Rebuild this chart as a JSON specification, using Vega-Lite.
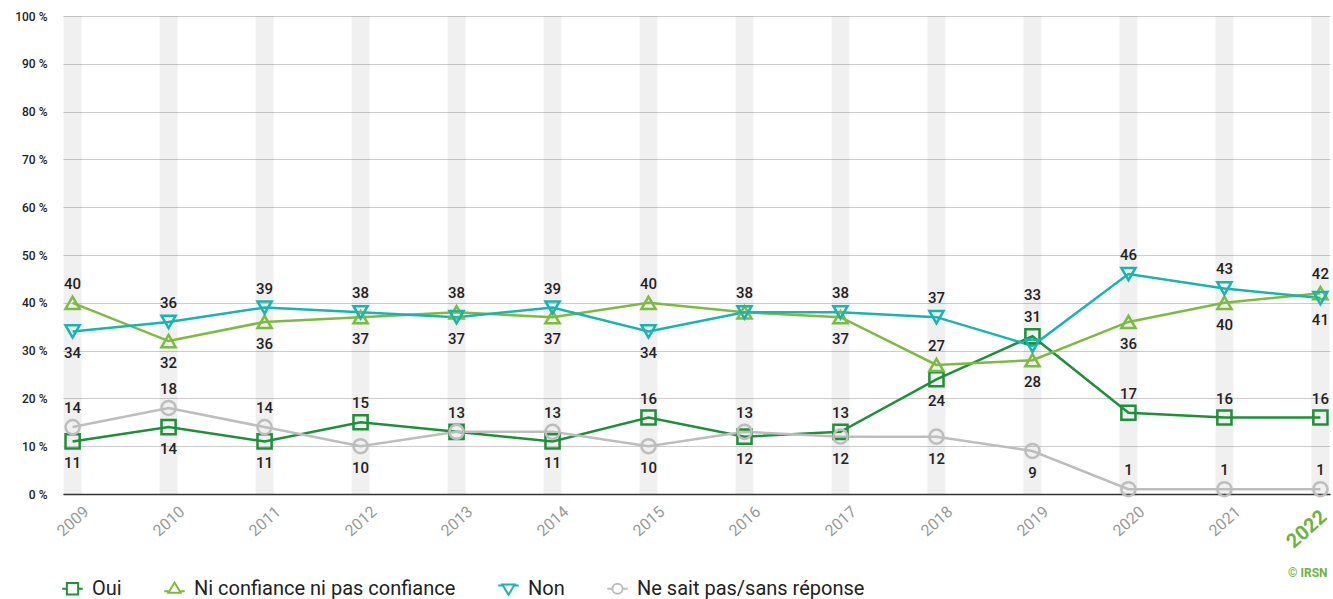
{
  "$schema": "https://vega.github.io/schema/vega-lite/v6.json",
  "width": 1267,
  "height": 478,
  "autosize": {"type": "none"},
  "padding": {"left": 63, "top": 16, "right": 3, "bottom": 105},
  "config": {"view": {"stroke": null}, "font": "Roboto"},
  "data": {"values": [
    {"annee": 2009, "serie": "Oui", "valeur": 11, "etiq": "dessous"},
    {"annee": 2010, "serie": "Oui", "valeur": 14, "etiq": "dessous"},
    {"annee": 2011, "serie": "Oui", "valeur": 11, "etiq": "dessous"},
    {"annee": 2012, "serie": "Oui", "valeur": 15, "etiq": "dessus"},
    {"annee": 2013, "serie": "Oui", "valeur": 13, "etiq": "dessus"},
    {"annee": 2014, "serie": "Oui", "valeur": 11, "etiq": "dessous"},
    {"annee": 2015, "serie": "Oui", "valeur": 16, "etiq": "dessus"},
    {"annee": 2016, "serie": "Oui", "valeur": 12, "etiq": "dessous"},
    {"annee": 2017, "serie": "Oui", "valeur": 13, "etiq": "dessus"},
    {"annee": 2018, "serie": "Oui", "valeur": 24, "etiq": "dessous"},
    {"annee": 2019, "serie": "Oui", "valeur": 33, "etiq": "dessus_haut"},
    {"annee": 2020, "serie": "Oui", "valeur": 17, "etiq": "dessus"},
    {"annee": 2021, "serie": "Oui", "valeur": 16, "etiq": "dessus"},
    {"annee": 2022, "serie": "Oui", "valeur": 16, "etiq": "dessus"},
    {"annee": 2009, "serie": "Ni confiance ni pas confiance", "valeur": 40, "etiq": "dessus"},
    {"annee": 2010, "serie": "Ni confiance ni pas confiance", "valeur": 32, "etiq": "dessous"},
    {"annee": 2011, "serie": "Ni confiance ni pas confiance", "valeur": 36, "etiq": "dessous"},
    {"annee": 2012, "serie": "Ni confiance ni pas confiance", "valeur": 37, "etiq": "dessous"},
    {"annee": 2013, "serie": "Ni confiance ni pas confiance", "valeur": 38, "etiq": "dessus"},
    {"annee": 2014, "serie": "Ni confiance ni pas confiance", "valeur": 37, "etiq": "dessous"},
    {"annee": 2015, "serie": "Ni confiance ni pas confiance", "valeur": 40, "etiq": "dessus"},
    {"annee": 2016, "serie": "Ni confiance ni pas confiance", "valeur": 38, "etiq": "dessus"},
    {"annee": 2017, "serie": "Ni confiance ni pas confiance", "valeur": 37, "etiq": "dessous"},
    {"annee": 2018, "serie": "Ni confiance ni pas confiance", "valeur": 27, "etiq": "dessus"},
    {"annee": 2019, "serie": "Ni confiance ni pas confiance", "valeur": 28, "etiq": "dessous"},
    {"annee": 2020, "serie": "Ni confiance ni pas confiance", "valeur": 36, "etiq": "dessous"},
    {"annee": 2021, "serie": "Ni confiance ni pas confiance", "valeur": 40, "etiq": "dessous"},
    {"annee": 2022, "serie": "Ni confiance ni pas confiance", "valeur": 42, "etiq": "dessus"},
    {"annee": 2009, "serie": "Non", "valeur": 34, "etiq": "dessous"},
    {"annee": 2010, "serie": "Non", "valeur": 36, "etiq": "dessus"},
    {"annee": 2011, "serie": "Non", "valeur": 39, "etiq": "dessus"},
    {"annee": 2012, "serie": "Non", "valeur": 38, "etiq": "dessus"},
    {"annee": 2013, "serie": "Non", "valeur": 37, "etiq": "dessous"},
    {"annee": 2014, "serie": "Non", "valeur": 39, "etiq": "dessus"},
    {"annee": 2015, "serie": "Non", "valeur": 34, "etiq": "dessous"},
    {"annee": 2016, "serie": "Non", "valeur": 38, "etiq": "aucune"},
    {"annee": 2017, "serie": "Non", "valeur": 38, "etiq": "dessus"},
    {"annee": 2018, "serie": "Non", "valeur": 37, "etiq": "dessus"},
    {"annee": 2019, "serie": "Non", "valeur": 31, "etiq": "dessus_moyen"},
    {"annee": 2020, "serie": "Non", "valeur": 46, "etiq": "dessus"},
    {"annee": 2021, "serie": "Non", "valeur": 43, "etiq": "dessus"},
    {"annee": 2022, "serie": "Non", "valeur": 41, "etiq": "dessous"},
    {"annee": 2009, "serie": "Ne sait pas/sans réponse", "valeur": 14, "etiq": "dessus"},
    {"annee": 2010, "serie": "Ne sait pas/sans réponse", "valeur": 18, "etiq": "dessus"},
    {"annee": 2011, "serie": "Ne sait pas/sans réponse", "valeur": 14, "etiq": "dessus"},
    {"annee": 2012, "serie": "Ne sait pas/sans réponse", "valeur": 10, "etiq": "dessous"},
    {"annee": 2013, "serie": "Ne sait pas/sans réponse", "valeur": 13, "etiq": "aucune"},
    {"annee": 2014, "serie": "Ne sait pas/sans réponse", "valeur": 13, "etiq": "dessus"},
    {"annee": 2015, "serie": "Ne sait pas/sans réponse", "valeur": 10, "etiq": "dessous"},
    {"annee": 2016, "serie": "Ne sait pas/sans réponse", "valeur": 13, "etiq": "dessus"},
    {"annee": 2017, "serie": "Ne sait pas/sans réponse", "valeur": 12, "etiq": "dessous"},
    {"annee": 2018, "serie": "Ne sait pas/sans réponse", "valeur": 12, "etiq": "dessous"},
    {"annee": 2019, "serie": "Ne sait pas/sans réponse", "valeur": 9, "etiq": "dessous"},
    {"annee": 2020, "serie": "Ne sait pas/sans réponse", "valeur": 1, "etiq": "dessus"},
    {"annee": 2021, "serie": "Ne sait pas/sans réponse", "valeur": 1, "etiq": "dessus"},
    {"annee": 2022, "serie": "Ne sait pas/sans réponse", "valeur": 1, "etiq": "dessus"}
  ]},
  "encoding": {
    "x": {
      "field": "annee",
      "type": "ordinal",
      "scale": {"type": "point", "padding": 0.1},
      "axis": {
        "labelAngle": -42,
        "labelAlign": "center",
        "labelBaseline": "middle",
        "labelColor": {"condition": {"test": "datum.value == 2022", "value": "#6db33f"}, "value": "#999999"},
        "labelFontSize": {"condition": {"test": "datum.value == 2022", "value": 20}, "value": 16},
        "labelFontWeight": {"condition": {"test": "datum.value == 2022", "value": "bold"}, "value": "normal"},
        "labelOffset": {"condition": {"test": "datum.value == 2022", "value": -14}, "value": 0},
        "labelPadding": {"condition": {"test": "datum.value == 2022", "value": 35}, "value": 27},
        "labelBound": false,
        "labelOverlap": false,
        "ticks": false,
        "domainColor": "#333333",
        "domainWidth": 1.5,
        "title": "© IRSN",
        "titleColor": "#6db33f",
        "titleFontSize": 12,
        "titleFontWeight": "bold",
        "titleAlign": "right",
        "titleAnchor": "end",
        "titleX": 1264,
        "titleY": 78,
        "titleBaseline": "middle"
      }
    }
  },
  "layer": [
    {
      "transform": [{"aggregate": [], "groupby": ["annee"]}],
      "mark": {"type": "bar", "width": 18, "color": "#000000", "opacity": 0.06},
      "encoding": {
        "y": {
          "datum": 100,
          "type": "quantitative",
          "scale": {"domain": [0, 100], "nice": false},
          "axis": {
            "values": [0, 10, 20, 30, 40, 50, 60, 70, 80, 90, 100],
            "labelExpr": "datum.value + ' %'",
            "grid": true,
            "gridColor": "#cccccc",
            "domain": false,
            "ticks": false,
            "labelPadding": 16,
            "labelFontSize": 12,
            "labelFontWeight": 500,
            "labelColor": "#222222",
            "title": null
          }
        }
      }
    },
    {
      "mark": {"type": "line", "strokeWidth": 2.5},
      "encoding": {
        "y": {"field": "valeur", "type": "quantitative"},
        "color": {
          "field": "serie",
          "type": "nominal",
          "scale": {
            "domain": ["Oui", "Ni confiance ni pas confiance", "Non", "Ne sait pas/sans réponse"],
            "range": ["#1f8f3a", "#7cbb3f", "#19b3b0", "#bdbdbd"]
          },
          "legend": null
        }
      }
    },
    {
      "mark": {"type": "point", "filled": false, "size": 200, "strokeWidth": 2.5, "opacity": 1},
      "encoding": {
        "y": {"field": "valeur", "type": "quantitative"},
        "color": {"field": "serie", "type": "nominal", "legend": null},
        "shape": {
          "field": "serie",
          "type": "nominal",
          "scale": {
            "domain": ["Oui", "Ni confiance ni pas confiance", "Non", "Ne sait pas/sans réponse"],
            "range": ["square", "triangle-up", "triangle-down", "circle"]
          },
          "legend": null
        }
      }
    },
    {
      "transform": [{"filter": "false"}],
      "mark": {"type": "point", "filled": false, "strokeWidth": 2, "opacity": 1},
      "encoding": {
        "y": {"field": "valeur", "type": "quantitative"},
        "shape": {
          "field": "serie",
          "type": "nominal",
          "scale": {
            "domain": ["Oui", "Ni confiance ni pas confiance", "Non", "Ne sait pas/sans réponse"],
            "range": [
              "M-1,0H-0.55M0.55,0H1M-0.55,-0.55H0.55V0.55H-0.55Z",
              "M-1,0.25H-0.6M0.6,0.25H1M0,-0.6L0.6,0.4H-0.6Z",
              "M-1,-0.3H-0.6M0.6,-0.3H1M0,0.6L0.6,-0.4H-0.6Z",
              "M-1,0H-0.5M0.5,0H1M0.5,0A0.5,0.5 0 1,1 -0.5,0A0.5,0.5 0 1,1 0.5,0Z"
            ]
          },
          "legend": {
            "title": null,
            "orient": "none",
            "direction": "horizontal",
            "legendX": -2,
            "legendY": 561,
            "labelFontSize": 20,
            "labelColor": "#222222",
            "labelLimit": 500,
            "symbolSize": 420,
            "symbolStrokeWidth": 2,
            "columnPadding": 38,
            "labelOffset": 8,
            "symbolStrokeColor": {"expr": "datum.value == 'Oui' ? '#1f8f3a' : datum.value == 'Non' ? '#19b3b0' : datum.value == 'Ni confiance ni pas confiance' ? '#7cbb3f' : '#bdbdbd'"},
            "encode": {
              "symbols": {
                "update": {
                  "stroke": {"signal": "datum.value == 'Oui' ? '#1f8f3a' : datum.value == 'Non' ? '#19b3b0' : datum.value == 'Ni confiance ni pas confiance' ? '#7cbb3f' : '#bdbdbd'"}
                },
                "stroke": {"signal": "datum.value == 'Oui' ? '#1f8f3a' : datum.value == 'Non' ? '#19b3b0' : datum.value == 'Ni confiance ni pas confiance' ? '#7cbb3f' : '#bdbdbd'"}
              }
            }
          }
        }
      }
    },
    {
      "transform": [{"filter": "datum.etiq == 'dessus'"}],
      "mark": {"type": "text", "dy": -19, "fontSize": 15, "fontWeight": 500, "color": "#222222"},
      "encoding": {"y": {"field": "valeur", "type": "quantitative"}, "text": {"field": "valeur"}}
    },
    {
      "transform": [{"filter": "datum.etiq == 'dessous'"}],
      "mark": {"type": "text", "dy": 22, "fontSize": 15, "fontWeight": 500, "color": "#222222"},
      "encoding": {"y": {"field": "valeur", "type": "quantitative"}, "text": {"field": "valeur"}}
    },
    {
      "transform": [{"filter": "datum.etiq == 'dessus_moyen'"}],
      "mark": {"type": "text", "dy": -29, "fontSize": 15, "fontWeight": 500, "color": "#222222"},
      "encoding": {"y": {"field": "valeur", "type": "quantitative"}, "text": {"field": "valeur"}}
    },
    {
      "transform": [{"filter": "datum.etiq == 'dessus_haut'"}],
      "mark": {"type": "text", "dy": -41, "fontSize": 15, "fontWeight": 500, "color": "#222222"},
      "encoding": {"y": {"field": "valeur", "type": "quantitative"}, "text": {"field": "valeur"}}
    }
  ],
  "resolve": {"scale": {"shape": "independent"}}
}
